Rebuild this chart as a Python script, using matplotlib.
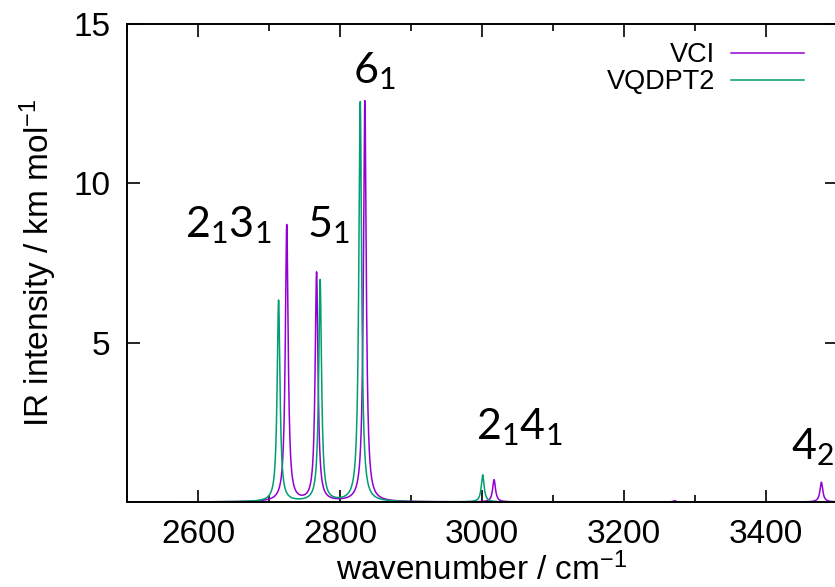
import numpy as np
import matplotlib
matplotlib.use('Agg')
import matplotlib.pyplot as plt

# stick spectra (cm-1, km/mol)
vci_pos = [2725, 2767, 2835, 3017, 3271, 3478]
vci_int = [8.68, 7.18, 12.58, 0.70, 0.04, 0.62]
vqdpt2_pos = [2713.5, 2772, 2828.5, 3001]
vqdpt2_int = [6.32, 6.95, 12.55, 0.85]
hwhm = 2.4

labels = [r'$\mathregular{2_1 3_1}$', r'$\mathregular{5_1}$', r'$\mathregular{6_1}$',
          r'$\mathregular{2_1 4_1}$', r'$\mathregular{4_2}$']
label_x = [2581, 2753, 2818, 2992, 3435]
label_y = [8.3, 8.3, 13.15, 1.98, 1.35]

x = np.arange(2500, 3500.05, 0.1)

def broaden(pos, inten):
    y = np.zeros_like(x)
    for p, a in zip(pos, inten):
        y += a * hwhm**2 / ((x - p)**2 + hwhm**2)
    return y

plt.rcParams['font.family'] = 'Liberation Sans'

fig = plt.figure(figsize=(8.35, 5.87), dpi=100)
ax = fig.add_axes([127/835, 1 - 502/587, (837 - 127)/835, (502 - 24)/587])

ax.plot(x, broaden(vci_pos, vci_int), color='#9400D3', lw=1.1, label='VCI')
ax.plot(x, broaden(vqdpt2_pos, vqdpt2_int), color='#009E73', lw=1.1, label='VQDPT2')

for t, lx, ly in zip(labels, label_x, label_y):
    ax.text(lx, ly, t, fontsize=31, family='Lato', va='baseline', ha='left')

ax.set_xlim(2500, 3500)
ax.set_ylim(0, 15)
ax.set_xticks([2600, 2800, 3000, 3200, 3400])
ax.set_xticks(np.arange(2500, 3501, 100), minor=True)
ax.set_yticks([5, 10, 15])
ax.tick_params(which='both', direction='in', top=True, right=True, labelsize=24, width=1.2)
ax.tick_params(which='major', length=9, pad=12)
ax.tick_params(which='minor', length=5)
for s in ax.spines.values():
    s.set_linewidth(1.4)

ax.set_xlabel(r'wavenumber / cm$\mathregular{^{-1}}$', fontsize=24, labelpad=2)
ax.set_ylabel(r'IR intensity / km mol$\mathregular{^{-1}}$', fontsize=24, labelpad=10)

ax.legend(loc='upper right', bbox_to_anchor=(0.969, 0.985), frameon=False, fontsize=19.5,
          markerfirst=False, handlelength=2.7, handletextpad=0.6, labelspacing=0.05,
          borderaxespad=0)

fig.savefig('out.png', dpi=100)
